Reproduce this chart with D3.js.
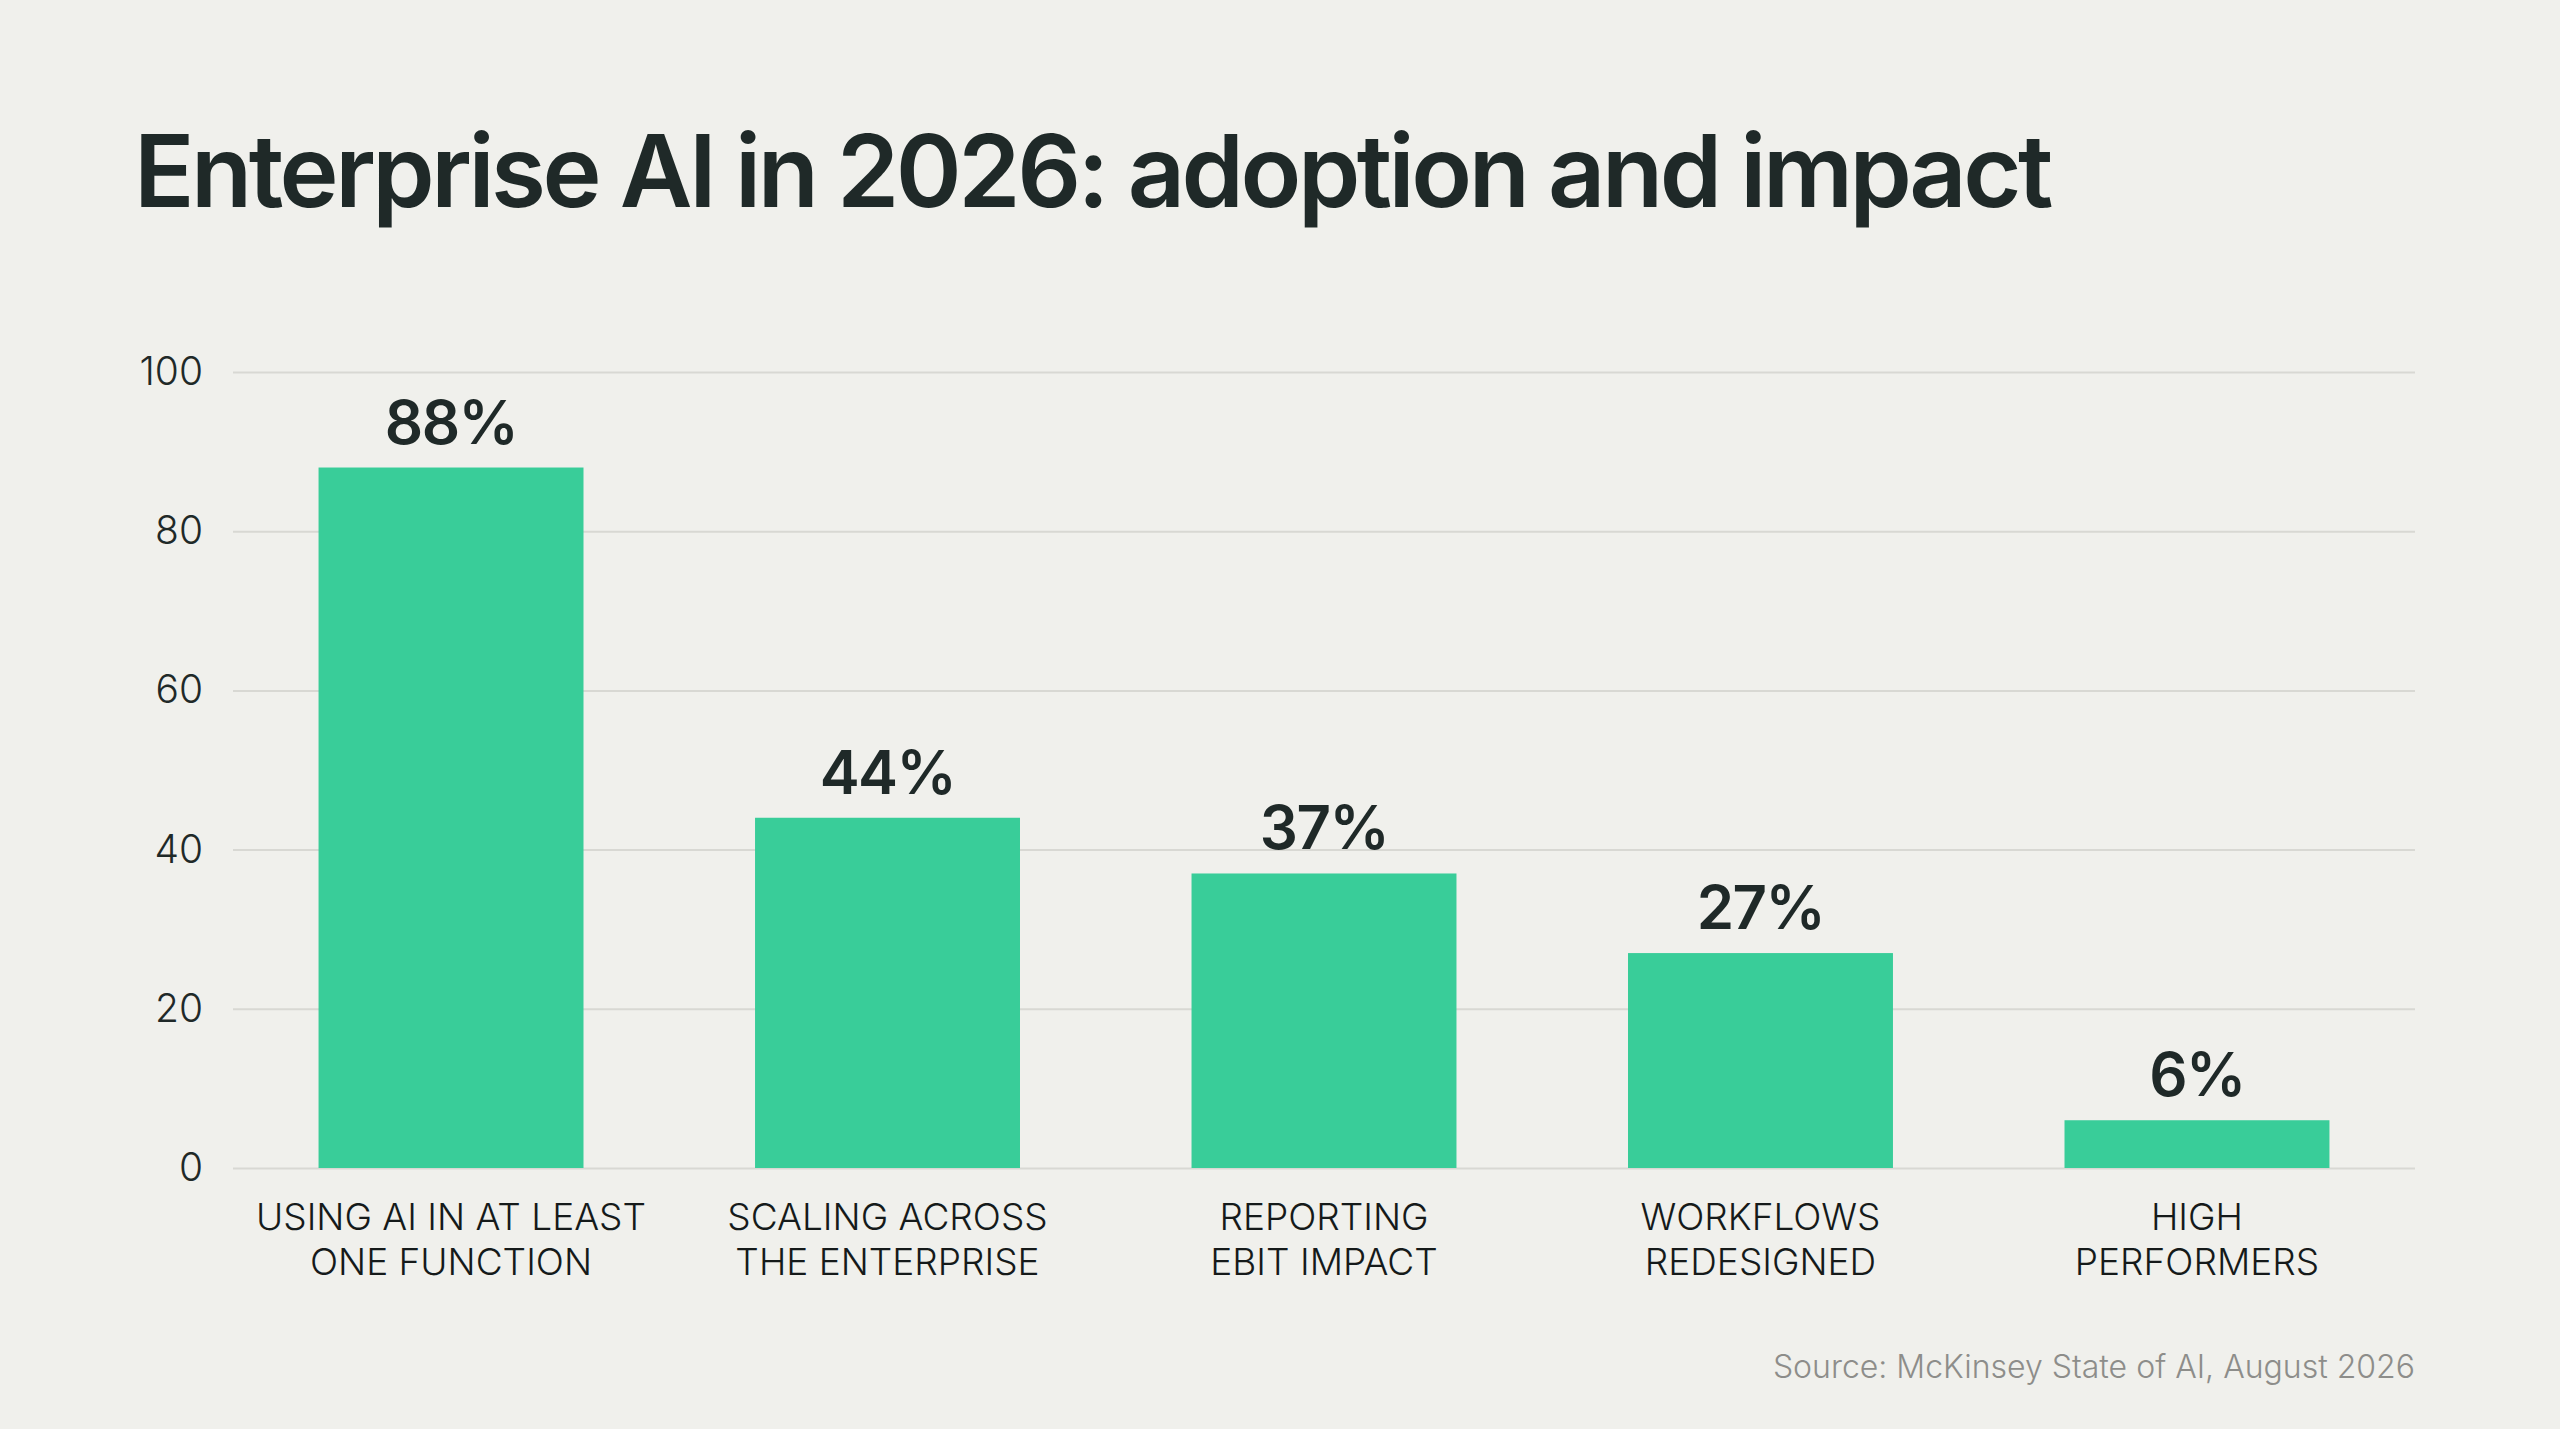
<!doctype html>
<html>
  <head>
    <script src="https://cdnjs.cloudflare.com/ajax/libs/d3/7.8.5/d3.min.js"></script>
    <style>
      body { margin: 0; background: #f0f0ec; }
      svg { display: block; }
    </style>
  </head>
  <body>
    <svg width="2560" height="1429"></svg>
    <script>
        var categories = [
            ["USING AI IN AT LEAST", "ONE FUNCTION"],
            ["SCALING ACROSS", "THE ENTERPRISE"],
            ["REPORTING", "EBIT IMPACT"],
            ["WORKFLOWS", "REDESIGNED"],
            ["HIGH", "PERFORMERS"]
        ];
        var values = [88, 44, 37, 27, 6];
        var yTicks = [0, 20, 40, 60, 80, 100];

        var svg = d3.select("svg");
        var plotLeft = 233, plotRight = 2415, plotTop = 372, plotBottom = 1168;

        svg.append("rect")
            .attr("width", 2560).attr("height", 1429)
            .attr("fill", "#f0f0ec");

        svg.append("text")
            .attr("x", 134).attr("y", 207)
            .style("font-family", "Inter")
            .style("font-weight", 600)
            .style("font-size", "100px")
            .style("letter-spacing", "-3.5px")
            .attr("fill", "#1f2928")
            .text("Enterprise AI in 2026: adoption and impact");

        var xScale = d3.scaleBand()
            .domain(d3.range(values.length))
            .range([plotLeft, plotRight])
            .paddingInner(0.393)
            .paddingOuter(0.196);

        var yScale = d3.scaleLinear().domain([0, 100]).range([plotBottom, plotTop]);

        // gridlines + tick labels
        var yAxis = d3.axisLeft(yScale)
            .tickValues(yTicks)
            .tickSize(-(plotRight - plotLeft))
            .tickPadding(30);

        var gy = svg.append("g")
            .attr("transform", "translate(" + plotLeft + ",0)")
            .call(yAxis);
        gy.select(".domain").remove();
        gy.selectAll(".tick line")
            .attr("stroke", "#d8d8d3")
            .attr("stroke-width", 2);
        gy.selectAll(".tick text")
            .style("font-family", "Inter")
            .style("font-weight", 300)
            .style("font-size", "39px")
            .attr("fill", "#1f2928");

        svg.selectAll("rect.bar")
            .data(values)
            .enter()
            .append("rect")
            .attr("class", "bar")
            .attr("x", (d, i) => xScale(i))
            .attr("y", d => yScale(d))
            .attr("width", xScale.bandwidth())
            .attr("height", d => yScale(0) - yScale(d))
            .attr("fill", "#39cd99");

        svg.selectAll("text.val")
            .data(values)
            .enter()
            .append("text")
            .attr("class", "val")
            .attr("x", (d, i) => xScale(i) + xScale.bandwidth() / 2)
            .attr("y", d => yScale(d) - 24)
            .attr("text-anchor", "middle")
            .style("font-family", "Inter")
            .style("font-weight", 600)
            .style("font-size", "60px")
            .style("letter-spacing", "-1.5px")
            .attr("fill", "#1f2928")
            .text(d => d + "%");

        var labels = svg.selectAll("text.cat")
            .data(categories)
            .enter()
            .append("text")
            .attr("class", "cat")
            .attr("x", (d, i) => xScale(i) + xScale.bandwidth() / 2)
            .attr("y", 1230)
            .attr("text-anchor", "middle")
            .style("font-family", "Inter")
            .style("font-weight", 300)
            .style("font-size", "37px")
            .attr("fill", "#151a1a");

        labels.selectAll("tspan")
            .data(d => d)
            .enter()
            .append("tspan")
            .attr("x", function() { return d3.select(this.parentNode).attr("x"); })
            .attr("dy", (d, i) => i ? 45 : 0)
            .text(d => d);

        svg.append("text")
            .attr("x", plotRight).attr("y", 1378)
            .attr("text-anchor", "end")
            .style("font-family", "Inter")
            .style("font-weight", 300)
            .style("font-size", "32px")
            .attr("fill", "#8d8d8a")
            .text("Source: McKinsey State of AI, August 2026");
    </script>
  </body>
</html>
